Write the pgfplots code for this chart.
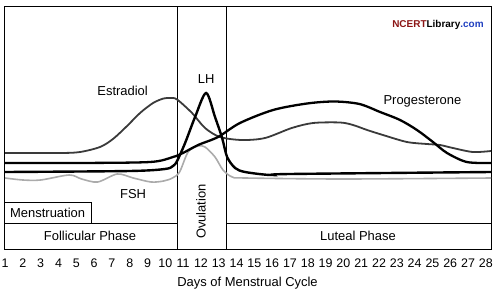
\documentclass[border=0pt]{standalone}
\usepackage{fontspec}
\setmainfont{Liberation Sans}
\usepackage{pgfplots}
\pgfplotsset{compat=1.18}
\definecolor{ncertred}{HTML}{8B1515}
\definecolor{ncertblue}{HTML}{1F3FC0}
\definecolor{estrgray}{HTML}{3A3A3A}
\definecolor{fshgray}{HTML}{ABABAB}
\begin{document}
\begin{tikzpicture}[x=1bp,y=1bp]
\useasboundingbox (0,0) rectangle (497,293);
\begin{axis}[
  at={(4bp,44bp)}, anchor=south west,
  scale only axis, width=487bp, height=243bp,
  xmin=0.94, xmax=28.29, ymin=0, ymax=243,
  xtick={1,...,28}, ytick=\empty, major tick length=0pt,
  /pgf/number format/assume math mode=true,
  xticklabel style={font=\fontsize{12.5}{14}\selectfont, inner sep=1pt, yshift=-9bp},
  xlabel={Days of Menstrual Cycle},
  xlabel style={font=\fontsize{13}{15}\selectfont, at={(axis description cs:0.5,0)},
    anchor=center, yshift=-34bp},
  axis line style={line width=0.9bp},
  every axis plot/.append style={smooth},
]
% phase boxes
\draw[line width=0.8bp] (axis cs:10.66,0) -- (axis cs:10.66,243);
\draw[line width=0.8bp] (axis cs:13.41,0) -- (axis cs:13.41,243);
\draw[line width=0.8bp] (axis cs:0.94,26) -- (axis cs:10.66,26);
\draw[line width=0.8bp] (axis cs:13.41,26) -- (axis cs:28.29,26);
\draw[line width=0.8bp] (axis cs:0.94,47) -- (axis cs:5.83,47) -- (axis cs:5.83,26);

% FSH
\addplot[fshgray, line width=1.6bp] coordinates {
 (1,71) (2,69) (3,69) (4.6,74) (5.3,70) (6.2,67) (7.3,75) (8.2,71)
 (9.2,67) (9.9,68) (10.4,71) (10.8,77) (11.28,97) (11.84,103) (12.23,102)
 (12.79,92) (13.24,79) (13.76,72) (14.5,71) (20,70) (28.29,71)};
% Estradiol
\addplot[estrgray, line width=1.8bp] coordinates {
 (1,96) (4.09,96) (5.21,97) (6.33,102) (7.06,110) (7.85,123) (8.58,136)
 (9.31,146) (9.9,150.5) (10.3,151) (10.66,149.5) (11.5,136) (12.23,121) (13.07,112)
 (14.3,109) (15.6,111) (17.1,121) (18.3,126) (19.81,126.5) (20.54,124)
 (21.33,119) (22.22,114) (23.57,107) (24.69,105) (25.42,104) (26.15,101)
 (27.27,97) (28.29,98)};
% Progesterone
\addplot[black, line width=2.3bp] coordinates {
 (1,86) (5,86) (9.14,87) (10.43,92) (10.99,96) (11.84,104) (12.96,112)
 (14.19,126) (16.05,139) (17.96,145.5) (19.5,147.5) (20.9,145) (22.06,137)
 (23.18,129) (24.13,119) (25.03,107) (25.82,96) (26.93,87) (28.29,86)};
% LH
\addplot[black, line width=2.4bp] coordinates {
 (1,77) (8,78) (9.98,80) (10.43,83) (10.66,88) (11.11,106) (11.67,132)
 (12.29,156) (12.79,132) (13.19,111) (13.47,92) (13.92,81) (14.48,77)
 (15.88,74) (17,75) (28.29,77)};

\node[font=\fontsize{13}{15}\selectfont] at (axis cs:7.6,158) {Estradiol};
\node[font=\fontsize{13}{15}\selectfont] at (axis cs:12.29,170) {LH};
\node[font=\fontsize{13}{15}\selectfont] at (axis cs:24.44,148) {Progesterone};
\node[font=\fontsize{13}{15}\selectfont] at (axis cs:8.19,55) {FSH};
\node[font=\fontsize{13}{15}\selectfont] at (axis cs:3.39,36.5) {Menstruation};
\node[font=\fontsize{13}{15}\selectfont] at (axis cs:5.77,13) {Follicular Phase};
\node[font=\fontsize{13}{15}\selectfont] at (axis cs:20.82,13) {Luteal Phase};
\node[font=\fontsize{13}{15}\selectfont, rotate=90] at (axis cs:12.0,37.5) {Ovulation};
\node[font=\fontsize{10}{12}\selectfont\bfseries] at (axis cs:25.31,224)
  {\textcolor{ncertred}{NCERT}Library\textcolor{ncertblue}{.com}};
\end{axis}
\end{tikzpicture}
\end{document}
